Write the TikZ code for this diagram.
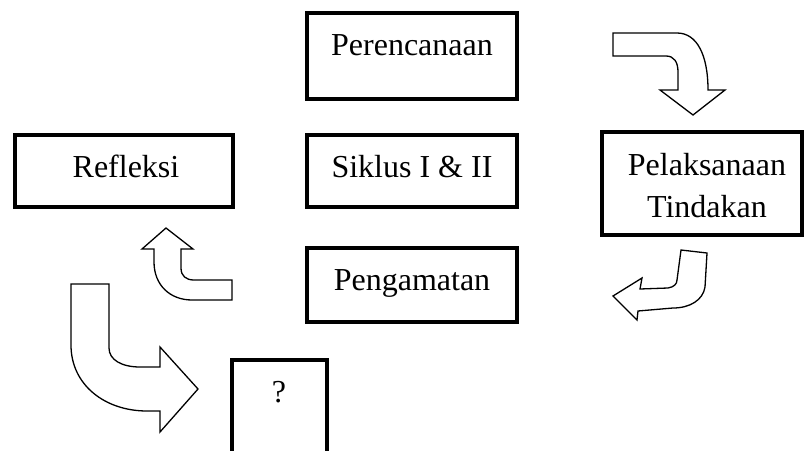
\documentclass[tikz,border=0pt]{standalone}
\usepackage{fontspec}
\setmainfont{Liberation Serif}
\begin{document}
\begin{tikzpicture}[x=1pt,y=-1pt,
  stagebox/.style={draw=black, line width=3.5pt, fill=white, inner sep=0pt},
  lbl/.style={font=\fontsize{32}{42}\selectfont, inner sep=0pt, anchor=base, align=center},
  bendarrow/.style={draw=black, line width=1.3pt, fill=white, line join=miter}]
\useasboundingbox (0,0) rectangle (805,450);

% stage boxes
\node[stagebox, minimum width=210pt, minimum height=86pt] (per) at (412,56) {};
\node[stagebox, minimum width=210pt, minimum height=72pt] (sik) at (412,171) {};
\node[stagebox, minimum width=218pt, minimum height=72pt] (ref) at (124,171) {};
\node[stagebox, minimum width=200pt, minimum height=103pt] (pel) at (702,183.5) {};
\node[stagebox, minimum width=210pt, minimum height=74pt] (pen) at (412,285) {};

% open box at the bottom, running past the lower edge
\coordinate (qa) at (232,470);
\coordinate (qb) at (327,470);
\draw[line width=3.5pt, line join=miter] (qa) -- (232,360) -- (327,360) -- (qb);

% labels
\node[lbl] (tper) at (412,55) {Perencanaan};
\node[lbl] (tsik) at (412,177) {Siklus I \& II};
\node[lbl] (tref) at (126,177) {Refleksi};
\node[lbl] (tpel) at (707,175) {Pelaksanaan};
\node[lbl] (ttin) at (707,217) {Tindakan};
\node[lbl] (tpen) at (412,290) {Pengamatan};
\node[lbl] (tq) at (279,402) {?};

% bent block arrows
\draw[bendarrow] (613,33) -- (677,33) .. controls (697,33) and (708,55) .. (708,90)
  -- (725,90) -- (693,115) -- (660,90) -- (678,90) -- (678,72)
  .. controls (678,62) and (674,56) .. (666,56) -- (613,56) -- cycle;

\draw[bendarrow] (681,250) -- (707,253) -- (705,287)
  .. controls (703,300) and (690,308) .. (673,308) -- (638,311) -- (637,320)
  -- (613,296) -- (642,278) -- (640,289) -- (668,288)
  .. controls (674,287) and (677,284) .. (677,280) -- cycle;

\draw[bendarrow] (166,228) -- (193,249) -- (181,249) -- (181,268)
  .. controls (181,276) and (186,280) .. (194,280) -- (232,280) -- (232,300)
  -- (192,300) .. controls (170,300) and (154,285) .. (154,262)
  -- (154,249) -- (142,249) -- cycle;

\draw[bendarrow] (71,284) -- (109,284) -- (109,348)
  .. controls (109,360) and (122,367) .. (140,367) -- (160,367) -- (160,347)
  -- (198,389) -- (160,432) -- (160,411) -- (147,411)
  .. controls (105,411) and (71,385) .. (71,345) -- cycle;
\end{tikzpicture}
\end{document}
